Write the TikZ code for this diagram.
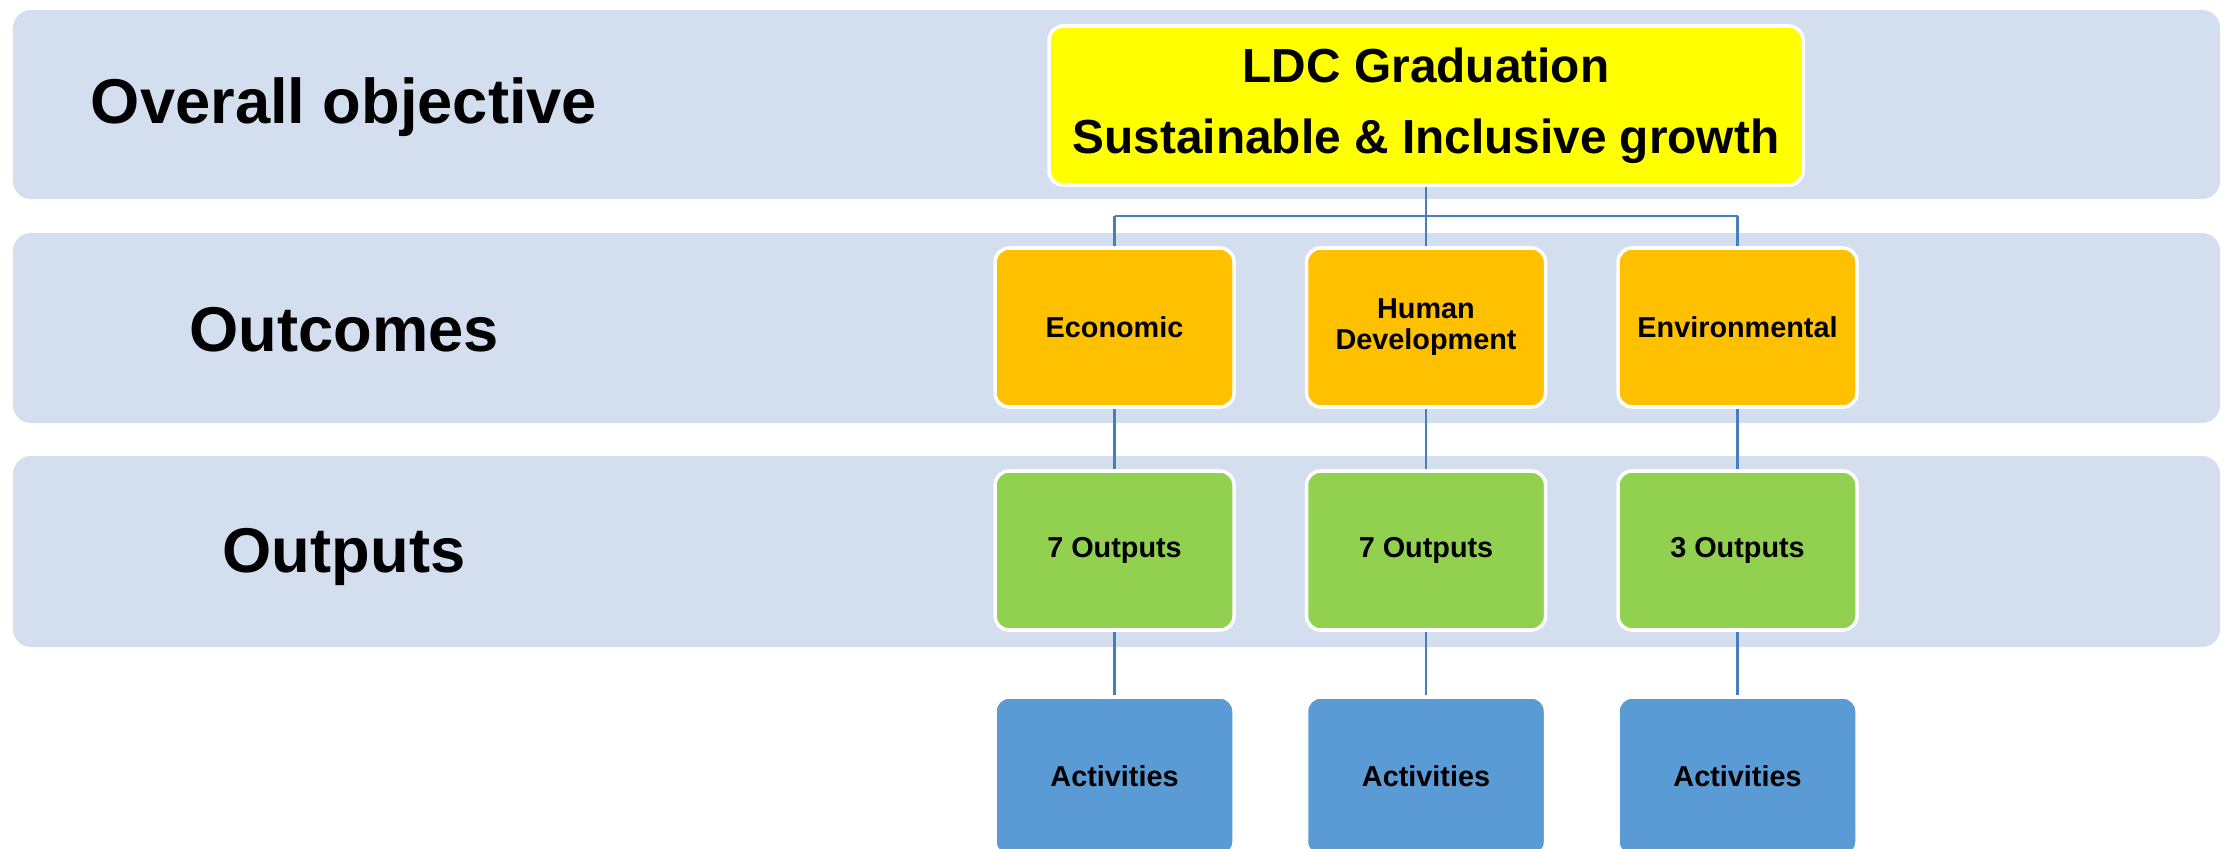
\documentclass[tikz,border=0pt]{standalone}
\usepackage{fontspec}
\setmainfont{Liberation Sans}
\definecolor{bandc}{HTML}{D3DEEF}
\definecolor{ylw}{HTML}{FFFF00}
\definecolor{orng}{HTML}{FFC000}
\definecolor{grn}{HTML}{92D050}
\definecolor{blu}{HTML}{5B9BD5}
\definecolor{connc}{HTML}{4A7EBB}
\begin{document}
\begin{tikzpicture}[
  band/.style={fill=bandc, draw=none, rounded corners=0.18cm, minimum width=22.07cm, inner sep=0pt},
  lbl/.style={font=\fontsize{18}{21.6}\selectfont\bfseries, inner sep=0pt},
  topbox/.style={fill=ylw, draw=white, line width=1pt, rounded corners=0.14cm, minimum width=7.54cm, minimum height=1.59cm, align=center, font=\fontsize{13.6}{20.2}\selectfont\bfseries},
  smallbox/.style={draw=white, line width=1pt, rounded corners=0.14cm, minimum width=2.39cm, minimum height=1.59cm, align=center, font=\fontsize{8.2}{8.8}\selectfont\bfseries, inner sep=0pt},
  outcome/.style={smallbox, fill=orng},
  outputbox/.style={smallbox, fill=grn},
  actbox/.style={smallbox, fill=blu},
  conn/.style={draw=connc, line width=0.8pt}
]
\useasboundingbox (0,0) rectangle (22.26,-8.49);
\fill[white] (0,0) rectangle (22.26,-8.49);
% bands
\node[band, minimum height=1.89cm] (b1) at (11.165,-1.045) {};
\node[band, minimum height=1.90cm] (b2) at (11.165,-3.28) {};
\node[band, minimum height=1.91cm] (b3) at (11.165,-5.515) {};
% labels
\node[lbl] (l1) at (3.44,-1.075) {Overall objective};
\node[lbl] (l2) at (3.44,-3.30) {Outcomes};
\node[lbl] (l3) at (3.44,-5.57) {Outputs};
% top box
\node[topbox] (top) at (14.26,-1.055) {LDC Graduation\\Sustainable \& Inclusive growth};
% outcomes
\node[outcome] (o1) at (11.145,-3.275) {Economic};
\node[outcome] (o2) at (14.26,-3.275) {\raisebox{-0.3ex}{Human}\\\raisebox{-0.3ex}{Development}};
\node[outcome] (o3) at (17.375,-3.275) {Environmental};
% outputs
\node[outputbox] (p1) at (11.145,-5.505) {\raisebox{-0.4ex}{7 Outputs}};
\node[outputbox] (p2) at (14.26,-5.505) {\raisebox{-0.4ex}{7 Outputs}};
\node[outputbox] (p3) at (17.375,-5.505) {\raisebox{-0.4ex}{3 Outputs}};
% activities
\node[actbox] (a1) at (11.145,-7.765) {Activities};
\node[actbox] (a2) at (14.26,-7.765) {Activities};
\node[actbox] (a3) at (17.375,-7.765) {Activities};
% connectors
\coordinate (bus) at (0,-2.16);
\draw[conn] (top.south) -- (top.south |- bus);
\draw[conn] (bus -| o1) -- (bus -| o3);
\draw[conn] (bus -| o1) -- (o1.north);
\draw[conn] (bus -| o2) -- (o2.north);
\draw[conn] (bus -| o3) -- (o3.north);
\draw[conn] (o1.south) -- (p1.north);
\draw[conn] (o2.south) -- (p2.north);
\draw[conn] (o3.south) -- (p3.north);
\draw[conn] (p1.south) -- (a1.north);
\draw[conn] (p2.south) -- (a2.north);
\draw[conn] (p3.south) -- (a3.north);
\end{tikzpicture}
\end{document}
